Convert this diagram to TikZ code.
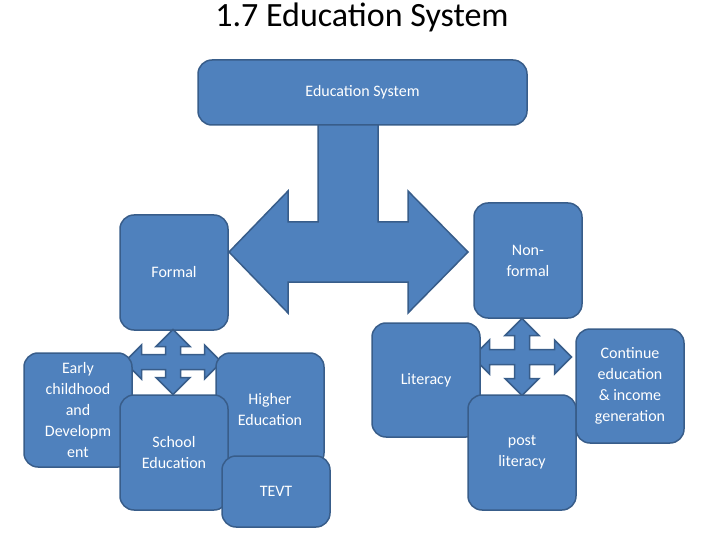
\documentclass[tikz,border=0pt]{standalone}
\usepackage{fontspec}
\setmainfont{Carlito}
\definecolor{bfill}{HTML}{4F81BD}
\definecolor{bline}{HTML}{385D8A}
\tikzset{
  box/.style={draw=bline, line width=1.5pt, fill=bfill, rounded corners=14pt, text=white, align=center, font=\fontsize{16}{21}\selectfont, inner sep=0pt},
  shp/.style={draw=bline, line width=1.5pt, fill=bfill, line join=miter}
}
\newcommand\quadarrow[4]{% cx cy hx hy
  \draw[shp] (#1,#2) ++(0,-#4) -- ++(17,17) -- ++(-9.5,0) -- (#1+7.5,#2-7.5) -- (#1+#3-17,#2-7.5) -- ++(0,-9.5) -- (#1+#3,#2) -- (#1+#3-17,#2+17) -- ++(0,-9.5) -- (#1+7.5,#2+7.5) -- (#1+7.5,#2+#4-17) -- ++(9.5,0) -- (#1,#2+#4) -- (#1-17,#2+#4-17) -- ++(9.5,0) -- (#1-7.5,#2+7.5) -- (#1-#3+17,#2+7.5) -- ++(0,9.5) -- (#1-#3,#2) -- (#1-#3+17,#2-17) -- ++(0,9.5) -- (#1-7.5,#2-7.5) -- (#1-7.5,#2-#4+17) -- ++(-9.5,0) -- cycle;}
\begin{document}
\begin{tikzpicture}[x=1pt,y=-1pt]
\useasboundingbox (0,0) rectangle (720,540);
\node[font=\fontsize{34}{40}\selectfont] (title) at (362,17) {1.7 Education System};
\draw[shp] (318,120) -- (378,120) -- (378,222) -- (408,222) -- (408,191) -- (468,252) -- (408,313) -- (408,282) -- (288,282) -- (288,313) -- (229,252) -- (288,191) -- (288,222) -- (318,222) -- cycle;
\node[box, minimum width=329pt, minimum height=65pt] (es) at (362.5,92.5) {Education System};
\node[box, minimum width=108pt, minimum height=115pt] (formal) at (174,272.5) {Formal};
\node[box, minimum width=108pt, minimum height=115pt] (nonformal) at (528,260.5) {Non-\\formal};
\quadarrow{173}{362}{48.5}{32.5}
\quadarrow{522}{357}{49.5}{38.5}
\node[box, minimum width=108pt, minimum height=114pt] (early) at (78,410) {Early\\childhood\\and\\Developm\\ent};
\node[box, minimum width=108pt, minimum height=114pt] (higher) at (270,410) {Higher\\Education};
\node[box, minimum width=108pt, minimum height=115pt] (school) at (174,452.5) {School\\Education};
\node[box, minimum width=108pt, minimum height=71pt] (tevt) at (276,491.5) {TEVT};
\node[box, minimum width=108pt, minimum height=114pt] (literacy) at (426,380) {Literacy};
\node[box, minimum width=108pt, minimum height=115pt] (post) at (522,452.5) {post\\literacy};
\node[box, minimum width=108pt, minimum height=114pt] (cont) at (630,386) {Continue\\education\\\&\ income\\generation};
\end{tikzpicture}
\end{document}
